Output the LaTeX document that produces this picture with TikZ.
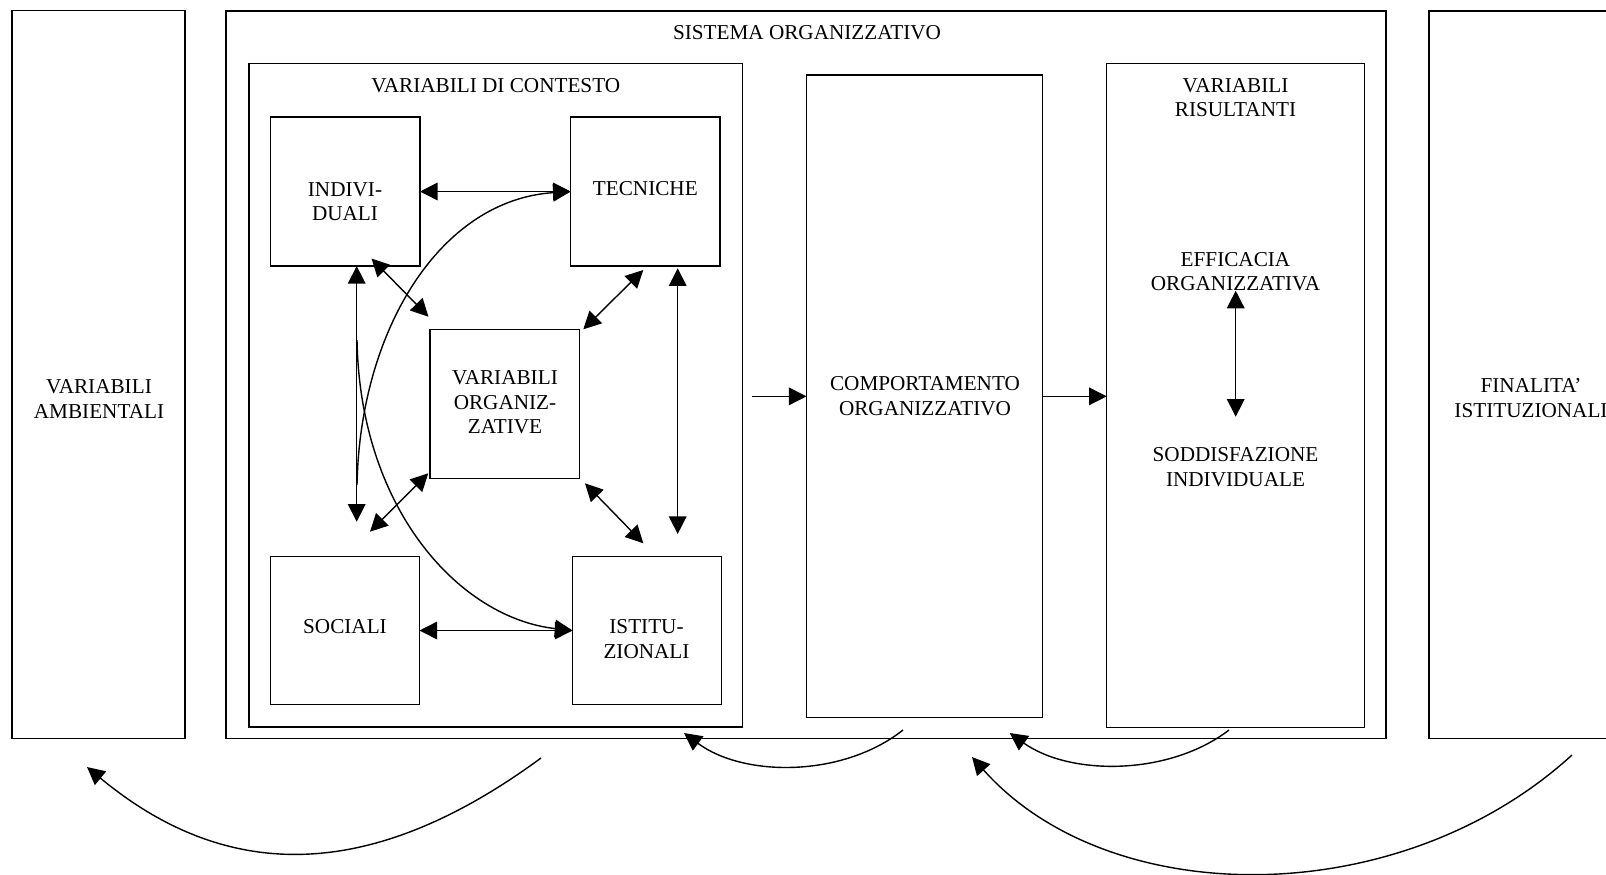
\documentclass[tikz,border=0pt]{standalone}
\usepackage{fontspec}
\setmainfont{Liberation Serif}
\usetikzlibrary{arrows.meta,calc}
\begin{document}
\begin{tikzpicture}[x=0.5pt, y=-0.5pt,
  box/.style={draw, line width=0.7pt, inner sep=0pt, outer sep=0pt},
  txt/.style={font=\fontsize{10.6pt}{12.25pt}\selectfont, align=center, inner sep=0pt},
  dbl/.style={line width=0.7pt, {Triangle[length=8.8pt,width=8.8pt]}-{Triangle[length=8.8pt,width=8.8pt]}},
  one/.style={line width=0.7pt, -{Triangle[length=8.8pt,width=8.8pt]}},
  link/.style={line width=0.7pt}
]
\useasboundingbox (0,0) rectangle (1606,874);
\clip (0,0) rectangle (1606,874);

% outer boxes
\node[box, minimum width=86.5pt, minimum height=364pt] (amb) at (98.5,374.5) {};
\node[box, minimum width=580pt, minimum height=363.75pt] (sis) at (806,374.75) {};
\node[box, minimum width=105.5pt, minimum height=363.75pt] (fin) at (1534.5,374.75) {};
\node[box, minimum width=246.75pt, minimum height=331.75pt] (cont) at (495.75,395.25) {};
\node[box, minimum width=118.1pt, minimum height=321.35pt] (comp) at (924.6,396.35) {};
\node[box, minimum width=128.8pt, minimum height=332.1pt] (vr) at (1235.5,395.4) {};

% inner boxes
\node[box, minimum width=74.75pt, minimum height=74.5pt] (ind) at (345.25,191.5) {};
\node[box, minimum width=74.65pt, minimum height=74.5pt] (tec) at (645.35,191.5) {};
\node[box, minimum width=74.75pt, minimum height=74.4pt] (vo) at (504.75,403.9) {};
\node[box, minimum width=74.6pt, minimum height=74pt] (soc) at (344.9,630.5) {};
\node[box, minimum width=74.4pt, minimum height=74pt] (ist) at (646.9,630.5) {};

% texts
\node[txt] (amb-t) at (99,399) {VARIABILI\\AMBIENTALI};
\node[txt] (sis-t) at (807,33) {SISTEMA ORGANIZZATIVO};
\node[txt] (fin-t) at (1531,398) {FINALITA’\\ISTITUZIONALI};
\node[txt] (cont-t) at (495.7,86) {VARIABILI DI CONTESTO};
\node[txt] (ind-t) at (345,201.7) {INDIVI-\\DUALI};
\node[txt] (tec-t) at (645.3,188.5) {TECNICHE};
\node[txt] (vo-t) at (505,402.5) {VARIABILI\\ORGANIZ-\\ZATIVE};
\node[txt] (soc-t) at (345,627) {SOCIALI};
\node[txt] (ist-t) at (646.5,639) {ISTITU-\\ZIONALI};
\node[txt] (comp-t) at (925,396) {COMPORTAMENTO\\ORGANIZZATIVO};
\node[txt] (vr-t) at (1235.5,97.5) {VARIABILI\\RISULTANTI};
\node[txt] (eff) at (1235.5,271.7) {EFFICACIA\\ORGANIZZATIVA};
\node[txt] (sod) at (1235.5,467) {SODDISFAZIONE\\INDIVIDUALE};

% free arrow ends
\coordinate (is-b) at (356.7,521.7);
\coordinate (iv-a) at (371.5,258.5);
\coordinate (iv-b) at (428.5,316.7);
\coordinate (tv-a) at (643.3,270);
\coordinate (tv-b) at (583.3,329.3);
\coordinate (ti-a) at (677.7,268.3);
\coordinate (ti-b) at (677.7,534);
\coordinate (vs-a) at (428.3,473.3);
\coordinate (vs-b) at (370,531.7);
\coordinate (vi-a) at (585,483.3);
\coordinate (vi-b) at (643.3,543.3);
\coordinate (c1) at (357,485);
\coordinate (c2) at (357,340);
\coordinate (cc) at (751.7,396.35);
\coordinate (es-a) at (1235.7,290.7);
\coordinate (es-b) at (1235.7,416.7);
\coordinate (a1) at (541,758);
\coordinate (a2) at (87,767);
\coordinate (b1) at (903,730);
\coordinate (b2) at (684,733);
\coordinate (k1) at (1229,730);
\coordinate (k2) at (1009.7,733);
\coordinate (d1) at (1572,755);
\coordinate (d2) at (972,757);

% connectors in the context box
\draw[dbl] (ind.east) -- (tec.west);
\draw[dbl] (soc.east) -- (ist.west);
\draw[dbl] (ind.south -| is-b) -- (is-b);
\draw[dbl] (iv-a) -- (iv-b);
\draw[dbl] (tv-a) -- (tv-b);
\draw[dbl] (ti-a) -- (ti-b);
\draw[dbl] (vs-a) -- (vs-b);
\draw[dbl] (vi-a) -- (vi-b);
\draw[one] (c1) .. controls (360,330) and (440,200) .. (tec.west);
\draw[one] (c2) .. controls (360,510) and (460,618) .. (ist.west);

% main flow
\draw[one] (cc) -- (cc -| comp.west);
\draw[one] (comp.east) -- (comp.east -| vr.west);
\draw[dbl] (es-a) -- (es-b);

% feedback curves
\draw[one] (a1) .. controls (371,883) and (227,883) .. (a2);
\draw[one] (b1) .. controls (843,777.5) and (744,777.5) .. (b2);
\draw[one] (k1) .. controls (1169,776) and (1070,776) .. (k2);
\draw[one] (d1) .. controls (1400,912) and (1110,912) .. (d2);
\end{tikzpicture}
\end{document}
